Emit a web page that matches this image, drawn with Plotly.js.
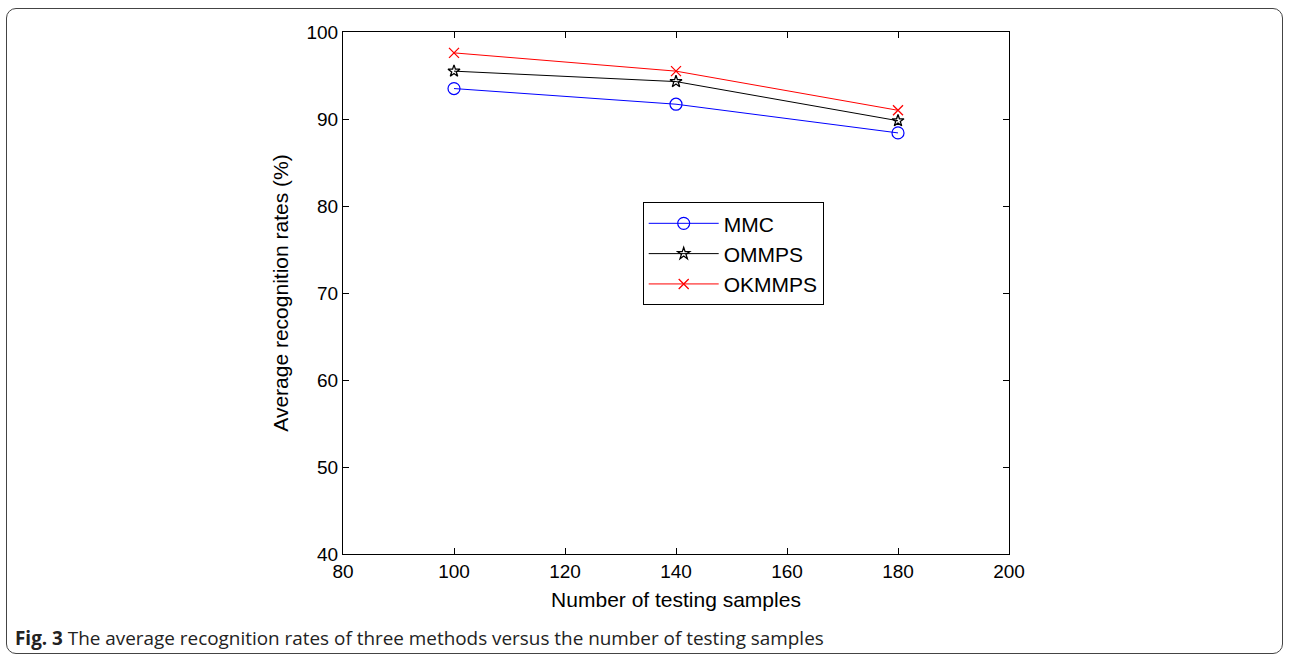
<!DOCTYPE html>
<html>
<head>
<meta charset="utf-8">
<script src="https://cdn.plot.ly/plotly-3.0.1.min.js"></script>
<style>
  html, body { margin: 0; padding: 0; background: #fff; }
  #wrap { position: relative; width: 1290px; height: 660px; }
  #frame { position: absolute; left: 6px; top: 8px; width: 1277px; height: 646px;
           border: 1.3px solid #444; border-radius: 10px; box-sizing: border-box; pointer-events: none; }
  #chart { position: absolute; left: 0; top: 0; width: 1290px; height: 660px; }
</style>
</head>
<body>
<div id="wrap">
  <div id="chart"></div>
  <div id="frame"></div>
</div>
<script>
const samples = [100, 140, 180];
const mmc = [93.5, 91.7, 88.4];
const ommps = [95.5, 94.3, 89.8];
const okmmps = [97.6, 95.5, 91.0];
const xTicks = [80, 100, 120, 140, 160, 180, 200];
const yTicks = [40, 50, 60, 70, 80, 90, 100];

const traces = [
  { x: samples, y: mmc, name: 'MMC', mode: 'lines+markers',
    line: { color: '#0000ff', width: 1 },
    marker: { symbol: 'circle-open', size: 12, color: '#0000ff', line: { width: 1.2, color: '#0000ff' } } },
  { x: samples, y: ommps, name: 'OMMPS', mode: 'lines+markers',
    line: { color: '#000000', width: 1 },
    marker: { symbol: 'star-open', size: 9, color: '#000000', line: { width: 1.3, color: '#000000' } } },
  { x: samples, y: okmmps, name: 'OKMMPS', mode: 'lines+markers',
    line: { color: '#ff0000', width: 1 },
    marker: { symbol: 'x-thin-open', size: 10, color: '#ff0000', line: { width: 1.3, color: '#ff0000' } } }
];

const fam = 'Liberation Sans, Arial, Helvetica, sans-serif';
const tickFont = { family: fam, size: 19, color: '#000' };
const titleFont = { family: fam, size: 21, color: '#000' };

const layout = {
  width: 1290, height: 660,
  margin: { l: 343, r: 281, t: 32, b: 106 },
  paper_bgcolor: '#fff', plot_bgcolor: '#fff',
  showlegend: true,
  font: tickFont,
  xaxis: {
    range: [80, 200], tickvals: xTicks, ticktext: xTicks.map(String),
    showgrid: false, zeroline: false, showline: true, linecolor: '#000', linewidth: 1,
    mirror: 'ticks', ticks: 'inside', ticklen: 6, tickcolor: '#000', tickwidth: 1,
    tickfont: tickFont,
    title: { text: 'Number of testing samples', font: titleFont, standoff: 11 }
  },
  yaxis: {
    range: [40, 100], tickvals: yTicks, ticktext: yTicks.map(String),
    showgrid: false, zeroline: false, showline: true, linecolor: '#000', linewidth: 1,
    mirror: 'ticks', ticks: 'inside', ticklen: 6, tickcolor: '#000', tickwidth: 1,
    tickfont: tickFont,
    title: { text: 'Average recognition rates (%)', font: titleFont, standoff: 12 }
  },
  legend: {
    x: 0.45, y: 0.674, xanchor: 'left', yanchor: 'top',
    bgcolor: '#fff', bordercolor: '#000', borderwidth: 1,
    font: { family: fam, size: 21, color: '#000' }, tracegroupgap: 0, itemwidth: 70
  },
  annotations: [
    { xref: 'paper', yref: 'paper', x: -330/666, y: -84/522, xanchor: 'left', yanchor: 'middle',
      showarrow: false, align: 'left',
      text: '<b>Fig. 3</b> The average recognition rates of three methods versus the number of testing samples',
      font: { family: 'Open Sans, sans-serif', size: 18.9, color: '#222' } }
  ]
};

Plotly.newPlot('chart', traces, layout, { displayModeBar: false, staticPlot: true });
</script>
</body>
</html>
